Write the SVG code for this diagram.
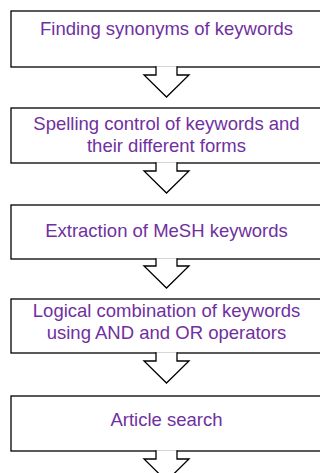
<svg xmlns="http://www.w3.org/2000/svg" width="320" height="473" viewBox="0 0 320 473">
<style>
.box{fill:#fff;stroke:#000;stroke-width:1.3}
.arr{fill:#fff;stroke:#000;stroke-width:1.3;stroke-linejoin:miter}
.t{font-family:"Liberation Sans",Arial,sans-serif;font-size:18.5px;fill:#7030A0;text-anchor:middle}
</style>
<rect width="320" height="473" fill="#fff"/>
<g id="n1"><rect class="box" x="11" y="11" width="311" height="56"/><text class="t" x="166.5" y="35">Finding synonyms of keywords</text></g>
<g id="n2"><rect class="box" x="11" y="108" width="311" height="55"/><text class="t" x="166.5" y="129.5">Spelling control of keywords and</text><text class="t" x="166.5" y="152.3">their different forms</text></g>
<g id="n3"><rect class="box" x="11" y="205" width="311" height="54"/><text class="t" x="166.5" y="237.3">Extraction of MeSH keywords</text></g>
<g id="n4"><rect class="box" x="11" y="299" width="311" height="54"/><text class="t" x="166.5" y="317.3">Logical combination of keywords</text><text class="t" x="166.5" y="339">using AND and OR operators</text></g>
<g id="n5"><rect class="box" x="11" y="396" width="311" height="55"/><text class="t" x="166.5" y="425.7">Article search</text></g>
<g id="connectors">
<path class="arr" d="M156,66.3 V75 H144 L166.5,97 L189,75 H177 V66.3"/>
<path class="arr" d="M156,162.3 V171 H144 L166.5,193 L189,171 H177 V162.3"/>
<path class="arr" d="M156,258.3 V266 H144 L166.5,288 L189,266 H177 V258.3"/>
<path class="arr" d="M156,352.3 V361 H144 L166.5,383 L189,361 H177 V352.3"/>
<path class="arr" d="M156,450.3 V459 H144 L166.5,481 L189,459 H177 V450.3"/>
</g>
</svg>
